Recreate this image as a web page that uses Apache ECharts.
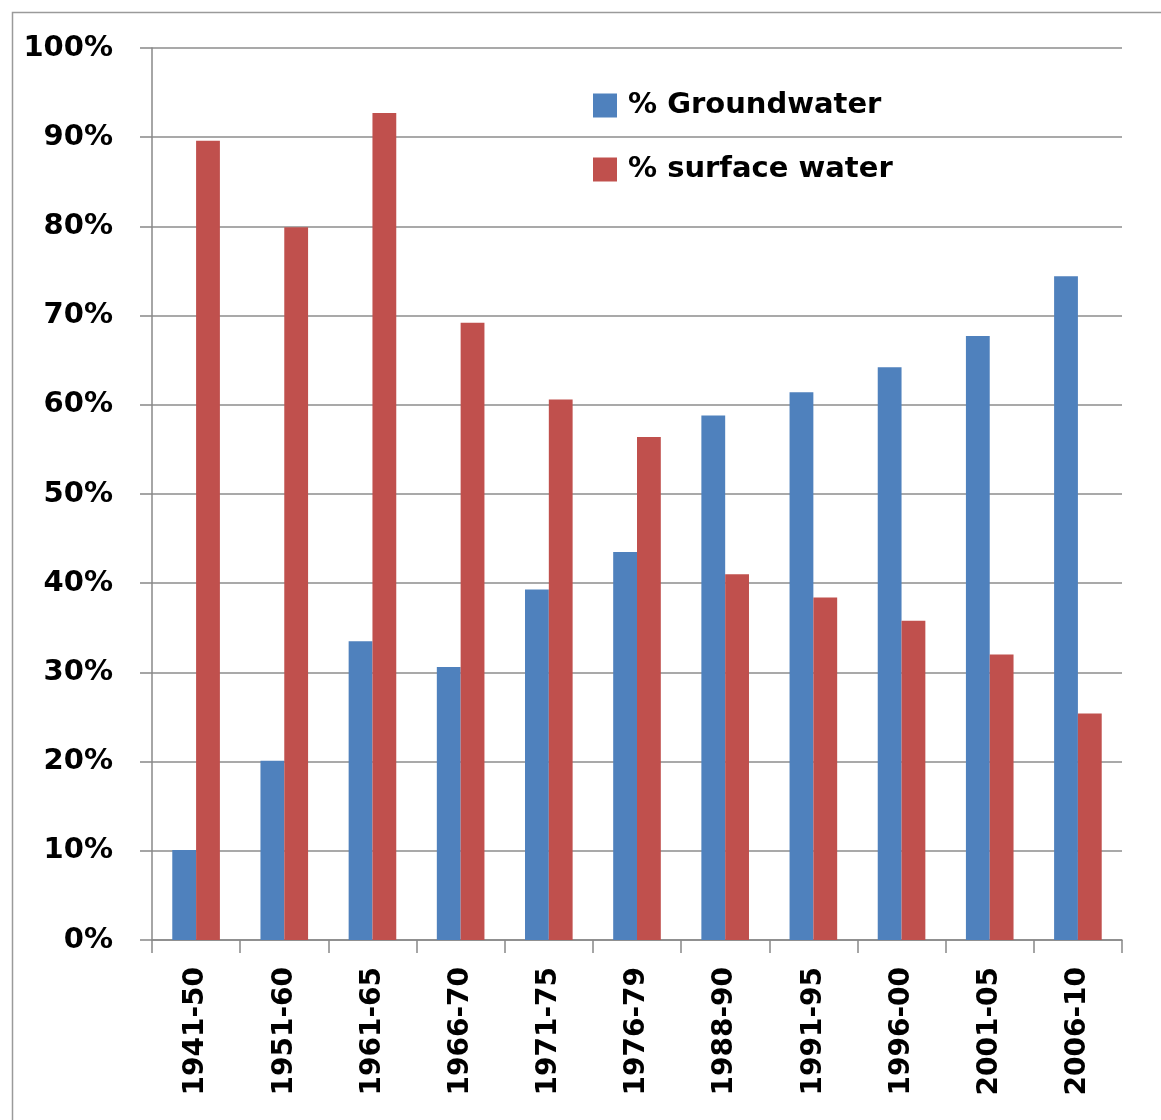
<!DOCTYPE html>
<html>
<head>
<meta charset="utf-8">
<script src="https://cdn.jsdelivr.net/npm/echarts@6/dist/echarts.min.js"></script>
<style>
html,body{margin:0;padding:0;background:#fff;}
#chart{width:1161px;height:1120px;}
</style>
</head>
<body>
<div id="chart"></div>
<script>
var categories = ['1941-50','1951-60','1961-65','1966-70','1971-75','1976-79','1988-90','1991-95','1996-00','2001-05','2006-10'];
var groundwater = [10.1, 20.1, 33.5, 30.6, 39.3, 43.5, 58.8, 61.4, 64.2, 67.7, 74.4];
var surfaceWater = [89.6, 79.9, 92.7, 69.2, 60.6, 56.4, 41.0, 38.4, 35.8, 32.0, 25.4];
var seriesNames = ['% Groundwater', '% surface water'];
var yTicks = {min: 0, max: 100, interval: 10};

var chart = echarts.init(document.getElementById('chart'));
var font = '"DejaVu Sans", sans-serif';
var legendText = {fontFamily: font, fontWeight: 'bold', fontSize: 29, color: '#000', padding: [0,0,0,6]};
chart.setOption({
  animation: false,
  backgroundColor: '#fff',
  graphic: [{
    type: 'rect',
    left: 10, top: 10,
    shape: {width: 1170, height: 1130},
    style: {fill: 'none', stroke: '#9a9a9a', lineWidth: 1.5},
    z: 0
  }],
  grid: {left: 152, right: 39, top: 48, bottom: 180, containLabel: false},
  legend: [{
    left: 588, top: 86,
    itemWidth: 24, itemHeight: 24,
    icon: 'rect',
    textStyle: legendText,
    data: [seriesNames[0]]
  }, {
    left: 588, top: 150,
    itemWidth: 24, itemHeight: 24,
    icon: 'rect',
    textStyle: legendText,
    data: [seriesNames[1]]
  }],
  xAxis: {
    type: 'category',
    data: categories,
    axisLine: {show: true, lineStyle: {color: '#888', width: 1.5}},
    axisTick: {show: true, length: 13, lineStyle: {color: '#888', width: 1.5}},
    axisLabel: {rotate: 90, margin: 27, fontFamily: font, fontWeight: 'bold', fontSize: 28, color: '#000'}
  },
  yAxis: {
    type: 'value',
    min: yTicks.min, max: yTicks.max, interval: yTicks.interval,
    axisLine: {show: true, lineStyle: {color: '#888', width: 1.5}},
    axisTick: {show: true, length: 12, lineStyle: {color: '#888', width: 1.5}},
    splitLine: {show: true, lineStyle: {color: '#8c8c8c', width: 1.5}},
    axisLabel: {formatter: '{value}%', margin: 39, fontFamily: font, fontWeight: 'bold', fontSize: 29, color: '#000'}
  },
  series: [{
    name: seriesNames[0],
    type: 'bar',
    data: groundwater,
    itemStyle: {color: '#4F81BD'},
    barGap: '0%',
    barCategoryGap: '46%'
  }, {
    name: seriesNames[1],
    type: 'bar',
    data: surfaceWater,
    itemStyle: {color: '#C0504D'},
    barGap: '0%',
    barCategoryGap: '46%'
  }]
});
</script>
</body>
</html>
